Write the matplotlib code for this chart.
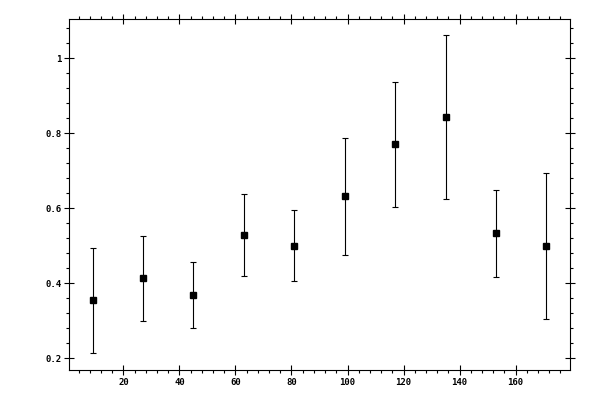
import matplotlib
matplotlib.use('Agg')
import matplotlib.pyplot as plt
from matplotlib.ticker import MultipleLocator
import numpy as np

# bin centres (deg) and measured values
angle = [9, 27, 45, 63, 81, 99, 117, 135, 153, 171]
value = [0.355, 0.413, 0.368, 0.528, 0.499, 0.632, 0.771, 0.843, 0.534, 0.499]
err_low = [0.213, 0.299, 0.280, 0.419, 0.405, 0.475, 0.603, 0.624, 0.416, 0.304]
err_high = [0.493, 0.525, 0.456, 0.637, 0.595, 0.787, 0.936, 1.061, 0.648, 0.693]

value = np.array(value)
yerr = [value - np.array(err_low), np.array(err_high) - value]

fig = plt.figure(figsize=(6, 4), dpi=100)
ax = fig.add_axes([0.1155, 0.075, 0.835, 0.8768])

ax.errorbar(angle, value, yerr=yerr, fmt='s', color='black', ms=5,
            elinewidth=0.8, capsize=2.2, capthick=0.8)

ax.set_xlim(0.7, 179.5)
ax.set_ylim(0.169, 1.104)

ax.xaxis.set_major_locator(MultipleLocator(20))
ax.xaxis.set_minor_locator(MultipleLocator(4))
ax.yaxis.set_major_locator(MultipleLocator(0.2))
ax.yaxis.set_minor_locator(MultipleLocator(0.04))
ax.yaxis.set_major_formatter(plt.FuncFormatter(lambda v, p: ('%g' % round(v, 2))))

for s in ax.spines.values():
    s.set_linewidth(0.8)

ax.tick_params(which='major', direction='inout', length=6.5, width=0.8,
               top=True, right=True, labelsize=6.5, pad=2.5)
ax.tick_params(which='minor', direction='out', length=2.5, width=0.8,
               top=True, right=True)
for lbl in ax.get_xticklabels() + ax.get_yticklabels():
    lbl.set_family('DejaVu Sans Mono')
    lbl.set_weight('bold')

fig.savefig('out.png', dpi=100)
